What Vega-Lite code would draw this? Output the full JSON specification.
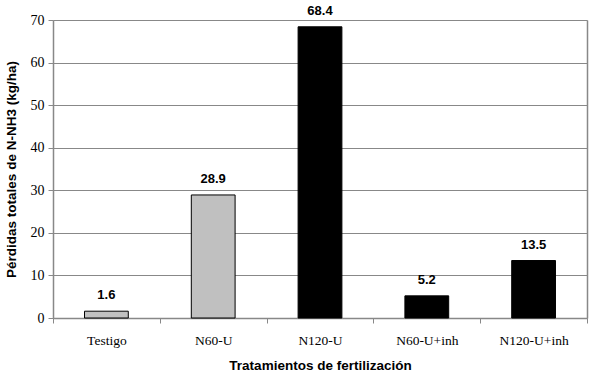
{
  "$schema": "https://vega.github.io/schema/vega-lite/v6.json",
  "autosize": "none",
  "width": 534,
  "height": 298,
  "padding": {"left": 53, "top": 20, "right": 13, "bottom": 65},
  "background": "white",
  "config": {
    "axis": {"domainColor": "#888888", "tickColor": "#888888"}
  },
  "data": {
    "values": [
      {"tratamiento": "Testigo", "valor": 1.6, "grupo": "a"},
      {"tratamiento": "N60-U", "valor": 28.9, "grupo": "a"},
      {"tratamiento": "N120-U", "valor": 68.4, "grupo": "b"},
      {"tratamiento": "N60-U+inh", "valor": 5.2, "grupo": "b"},
      {"tratamiento": "N120-U+inh", "valor": 13.5, "grupo": "b"}
    ]
  },
  "encoding": {
    "x": {
      "field": "tratamiento",
      "type": "nominal",
      "sort": null,
      "scale": {"paddingInner": 0, "paddingOuter": 0},
      "axis": {
        "title": "Tratamientos de fertilización",
        "titleFont": "Liberation Sans",
        "titleFontSize": 13.5,
        "titleFontWeight": "bold",
        "titleColor": "black",
        "titlePadding": 12,
        "labelFont": "Liberation Serif",
        "labelFontSize": 13.5,
        "labelColor": "black",
        "labelAngle": 0,
        "labelPadding": 10,
        "tickBand": "extent",
        "tickSize": 5,
        "grid": false,
        "domainWidth": 1.5
      }
    }
  },
  "layer": [
    {
      "mark": {"type": "bar", "width": {"band": 0.41}, "stroke": "black", "strokeWidth": 1},
      "encoding": {
        "y": {
          "field": "valor",
          "type": "quantitative",
          "scale": {"domain": [0, 70], "nice": false},
          "axis": {
            "title": "Pérdidas totales de N-NH3 (kg/ha)",
            "titleFont": "Liberation Sans",
            "titleFontSize": 13.5,
            "titleFontWeight": "bold",
            "titleColor": "black",
            "titlePadding": 12,
            "labelFont": "Liberation Serif",
            "labelFontSize": 14,
            "labelColor": "black",
            "labelPadding": 4,
            "labelOverlap": false,
            "values": [0, 10, 20, 30, 40, 50, 60, 70],
            "tickSize": 5,
            "gridColor": "#888888",
            "gridWidth": 1.2,
            "domainWidth": 1.5
          }
        },
        "color": {
          "field": "grupo",
          "type": "nominal",
          "scale": {"domain": ["a", "b"], "range": ["#C0C0C0", "#000000"]},
          "legend": null
        }
      }
    },
    {
      "mark": {"type": "text", "font": "Liberation Sans", "fontWeight": "bold", "fontSize": 13, "baseline": "bottom", "dy": -9, "color": "black"},
      "encoding": {
        "y": {
          "field": "valor",
          "type": "quantitative",
          "scale": {"domain": [0, 70], "nice": false},
          "axis": {
            "orient": "right",
            "title": null,
            "labels": false,
            "ticks": false,
            "grid": false,
            "domainColor": "#888888",
            "domainWidth": 1.5
          }
        },
        "text": {"field": "valor", "type": "quantitative", "format": ".1f"}
      }
    }
  ],
  "resolve": {"axis": {"y": "independent"}}
}
